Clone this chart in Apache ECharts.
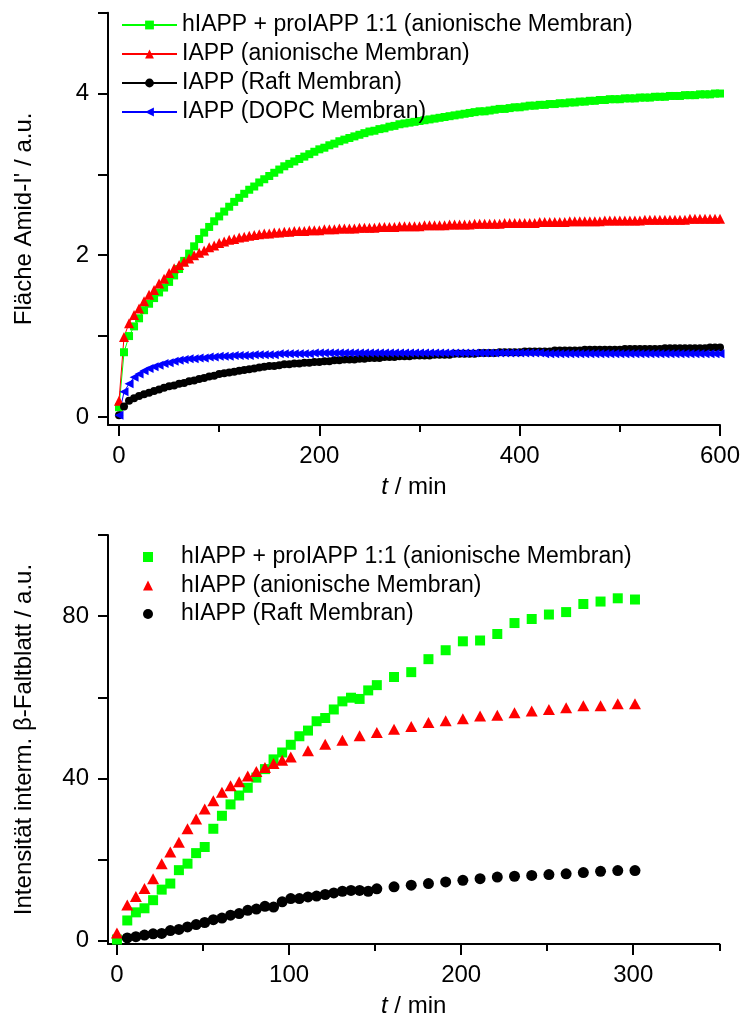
<!DOCTYPE html>
<html><head><meta charset="utf-8">
<script src="https://cdn.jsdelivr.net/npm/echarts@6/dist/echarts.min.js"></script>
<style>html,body{margin:0;padding:0;background:#fff}#c{width:745px;height:1019px}</style>
</head><body><div id="c"></div>
<script>
// ---------- top panel: Fläche Amid-I' vs t ----------
const topTime = [0,5,10,15,20,25,30,35,40,45,
 50,55,60,65,70,75,80,85,90,95,
 100,105,110,115,120,125,130,135,140,145,
 150,155,160,165,170,175,180,185,190,195,
 200,205,210,215,220,225,230,235,240,245,
 250,255,260,265,270,275,280,285,290,295,
 300,305,310,315,320,325,330,335,340,345,
 350,355,360,365,370,375,380,385,390,395,
 400,405,410,415,420,425,430,435,440,445,
 450,455,460,465,470,475,480,485,490,495,
 500,505,510,515,520,525,530,535,540,545,
 550,555,560,565,570,575,580,585,590,595,
 600];
const topGreen = [0.12,0.80,1.00,1.12,1.22,1.32,1.40,1.47,1.54,1.60,
 1.67,1.75,1.83,1.93,2.02,2.11,2.20,2.28,2.35,2.42,
 2.48,2.54,2.60,2.66,2.71,2.76,2.81,2.85,2.90,2.94,
 2.98,3.02,3.06,3.10,3.13,3.16,3.19,3.22,3.25,3.28,
 3.31,3.33,3.36,3.38,3.41,3.43,3.45,3.47,3.49,3.51,
 3.53,3.54,3.56,3.57,3.59,3.60,3.62,3.63,3.64,3.65,
 3.66,3.67,3.68,3.69,3.70,3.71,3.72,3.73,3.74,3.75,
 3.76,3.77,3.78,3.78,3.79,3.80,3.81,3.81,3.82,3.83,
 3.83,3.84,3.85,3.85,3.86,3.86,3.87,3.87,3.88,3.88,
 3.89,3.89,3.90,3.90,3.91,3.91,3.92,3.92,3.93,3.93,
 3.93,3.94,3.94,3.94,3.95,3.95,3.95,3.96,3.96,3.96,
 3.97,3.97,3.97,3.98,3.98,3.98,3.99,3.99,3.99,4.00,
 4.00];
const topRed = [0.20,0.99,1.16,1.26,1.34,1.43,1.51,1.57,1.65,1.71,
 1.78,1.84,1.88,1.92,1.96,2.00,2.03,2.06,2.10,2.12,
 2.15,2.17,2.19,2.20,2.22,2.23,2.24,2.25,2.26,2.27,
 2.27,2.28,2.28,2.29,2.29,2.30,2.30,2.30,2.31,2.31,
 2.31,2.32,2.32,2.32,2.33,2.33,2.33,2.33,2.34,2.34,
 2.34,2.34,2.35,2.35,2.35,2.35,2.36,2.36,2.36,2.36,
 2.36,2.37,2.37,2.37,2.37,2.37,2.38,2.38,2.38,2.38,
 2.38,2.39,2.39,2.39,2.39,2.39,2.39,2.40,2.40,2.40,
 2.40,2.40,2.40,2.40,2.41,2.41,2.41,2.41,2.41,2.41,
 2.42,2.42,2.42,2.42,2.42,2.42,2.42,2.43,2.43,2.43,
 2.43,2.43,2.43,2.43,2.43,2.44,2.44,2.44,2.44,2.44,
 2.44,2.44,2.44,2.44,2.45,2.45,2.45,2.45,2.45,2.45,
 2.45];
const topBlack = [0.02,0.13,0.20,0.23,0.26,0.28,0.30,0.32,0.34,0.36,
 0.38,0.39,0.41,0.42,0.44,0.45,0.47,0.48,0.50,0.51,
 0.53,0.54,0.55,0.56,0.57,0.58,0.59,0.60,0.61,0.62,
 0.63,0.63,0.64,0.65,0.65,0.66,0.66,0.67,0.67,0.68,
 0.68,0.69,0.69,0.70,0.70,0.71,0.71,0.71,0.72,0.72,
 0.73,0.73,0.73,0.74,0.74,0.74,0.75,0.75,0.75,0.76,
 0.76,0.76,0.76,0.77,0.77,0.77,0.77,0.78,0.78,0.78,
 0.78,0.78,0.79,0.79,0.79,0.79,0.80,0.80,0.80,0.80,
 0.80,0.81,0.81,0.81,0.81,0.81,0.81,0.82,0.82,0.82,
 0.82,0.82,0.82,0.83,0.83,0.83,0.83,0.83,0.83,0.83,
 0.83,0.84,0.84,0.84,0.84,0.84,0.84,0.84,0.84,0.85,
 0.85,0.85,0.85,0.85,0.85,0.85,0.85,0.85,0.86,0.86,
 0.86];
const topBlue = [0.02,0.31,0.41,0.49,0.53,0.57,0.60,0.62,0.64,0.66,
 0.67,0.69,0.70,0.71,0.72,0.72,0.73,0.73,0.74,0.74,
 0.75,0.75,0.75,0.76,0.76,0.76,0.76,0.77,0.77,0.77,
 0.77,0.77,0.78,0.78,0.78,0.78,0.78,0.78,0.78,0.79,
 0.79,0.79,0.79,0.79,0.79,0.79,0.79,0.79,0.79,0.79,
 0.79,0.79,0.79,0.79,0.79,0.79,0.79,0.79,0.79,0.79,
 0.79,0.79,0.79,0.79,0.79,0.79,0.79,0.79,0.79,0.79,
 0.79,0.79,0.79,0.79,0.79,0.79,0.79,0.79,0.79,0.79,
 0.79,0.79,0.79,0.79,0.79,0.78,0.78,0.78,0.78,0.78,
 0.78,0.78,0.78,0.78,0.78,0.78,0.78,0.78,0.78,0.78,
 0.78,0.78,0.78,0.78,0.78,0.78,0.78,0.78,0.78,0.78,
 0.78,0.78,0.78,0.78,0.78,0.78,0.78,0.78,0.78,0.78,
 0.78];
const topLegend = ['hIAPP + proIAPP 1:1 (anionische Membran)','IAPP (anionische Membran)','IAPP (Raft Membran)','IAPP (DOPC Membran)'];
const topXTicks = [0,200,400,600];
const topXMinor = [100,300,500];
const topYTicks = [0,1,2,3,4,5];
const topYLabels = [0,2,4];

// ---------- bottom panel: Intensität interm. β-Faltblatt vs t ----------
const botGreenT = [0,6,11,16,21,26,31,36,41,46,51,56,61,66,71,76,81,86,91,96,101,106,111,116,121,126,131,136,141,146,151,
 161,171,181,191,201,211,221,231,241,251,261,271,281,291,301];
const botGreen = [0.3,5.0,7.0,8.0,10.0,12.6,14.1,17.4,19.0,21.6,23.1,27.6,30.8,33.6,35.8,37.7,40.2,42.3,44.7,46.4,48.3,50.4,51.8,54.1,54.9,57.0,59.0,59.9,59.6,61.7,63.0,
 65.0,66.2,69.4,71.6,73.8,74.0,75.6,78.3,79.3,80.4,81.0,83.0,83.6,84.4,84.1];
const botRedT = [0,6,11,16,21,26,31,36,41,46,51,56,61,66,71,76,81,86,91,96,101,
 111,121,131,141,151,161,171,181,191,201,211,221,231,241,251,261,271,281,291,301];
const botRed = [1.9,8.8,10.9,12.9,15.3,19.0,21.9,24.3,27.6,30.0,32.5,34.5,36.6,38.2,39.2,40.6,41.7,42.7,43.7,44.5,45.3,
 46.8,48.4,49.4,50.5,51.3,52.1,52.8,53.8,54.2,54.7,55.4,55.6,56.2,56.6,57.0,57.4,57.9,57.9,58.4,58.4];
const botBlackT = [6,11,16,21,26,31,36,41,46,51,56,61,66,71,76,81,86,91,96,101,106,111,116,121,126,131,136,141,146,151,
 161,171,181,191,201,211,221,231,241,251,261,271,281,291,301];
const botBlack = [0.7,1.0,1.4,1.7,1.8,2.5,2.8,3.4,4.0,4.5,5.2,5.6,6.3,6.7,7.5,7.8,8.5,8.3,9.6,10.4,10.4,10.8,11.0,11.4,11.8,12.2,12.4,12.4,12.2,12.8,
 13.3,13.7,14.1,14.5,14.9,15.3,15.7,15.9,16.1,16.3,16.5,16.8,17.1,17.3,17.3];
const botLegend = ['hIAPP + proIAPP 1:1 (anionische Membran)','hIAPP (anionische Membran)','hIAPP (Raft Membran)'];
const botXTicks = [0,100,200,300];
const botXMinor = [50,150,250,350];
const botYTicks = [0,20,40,60,80,100];
const botYLabels = [0,40,80];

const FONT = "'Liberation Sans', Arial, Helvetica, sans-serif";
const pairs = (xs, ys) => xs.map((x, i) => [x, ys[i]]);
const black = '#000';
const botIds = ['botGreen', 'botRed', 'botBlack'];

function mainX(grid, min, max, ticks) {
  return {
    type: 'value', gridIndex: grid, min: min, max: max, position: 'bottom',
    axisLine: {show: true, onZero: false, lineStyle: {color: black, width: 2}},
    axisTick: {show: true, inside: false, length: 11, customValues: ticks, lineStyle: {color: black, width: 2}},
    axisLabel: {show: true, customValues: ticks, margin: 19, fontSize: 24, fontFamily: FONT, color: black},
    splitLine: {show: false},
    name: '{i|t} / min', nameLocation: 'middle', nameGap: 50,
    nameTextStyle: {fontSize: 24, fontFamily: FONT, color: black,
      rich: {i: {fontStyle: 'italic', fontSize: 24, fontFamily: FONT, color: black}}}
  };
}
function minorX(grid, min, max, ticks) {
  return {
    type: 'value', gridIndex: grid, min: min, max: max, position: 'bottom',
    axisLine: {show: false, onZero: false},
    axisTick: {show: true, inside: false, length: 7, customValues: ticks, lineStyle: {color: black, width: 2}},
    axisLabel: {show: false}, splitLine: {show: false}
  };
}
function mainY(grid, min, max, ticks, labels, name) {
  return {
    type: 'value', gridIndex: grid, min: min, max: max, position: 'left',
    axisLine: {show: true, onZero: false, lineStyle: {color: black, width: 2}},
    axisTick: {show: true, inside: false, length: 10, customValues: ticks, lineStyle: {color: black, width: 2}},
    axisLabel: {show: true, customValues: labels, margin: 19, fontSize: 24, fontFamily: FONT, color: black},
    splitLine: {show: false},
    name: name, nameLocation: 'middle', nameGap: 72, nameRotate: 90,
    nameTextStyle: {fontSize: 24, fontFamily: FONT, color: black}
  };
}

const option = {
  animation: false,
  backgroundColor: '#fff',
  grid: [
    {left: 108, top: 12.7, width: 612, height: 412.3},
    {left: 108, top: 535, width: 611.3, height: 411}
  ],
  xAxis: [
    mainX(0, -11, 600, topXTicks),
    minorX(0, -11, 600, topXMinor),
    mainX(1, -5.2, 350, botXTicks),
    minorX(1, -5.2, 350, botXMinor)
  ],
  yAxis: [
    mainY(0, -0.1, 5, topYTicks, topYLabels, "Fläche Amid-I' / a.u."),
    mainY(1, -0.8, 100, botYTicks, botYLabels, 'Intensität interm. β-Faltblatt / a.u.')
  ],
  legend: [
    {
      data: topLegend, orient: 'vertical', left: 116, top: 8.5,
      itemWidth: 55, itemHeight: 11, itemGap: 6, selectedMode: false,
      textStyle: {fontSize: 23, lineHeight: 23, fontFamily: FONT, color: black}
    },
    {
      data: botIds, orient: 'vertical', left: 138, top: 540.5,
      itemWidth: 10, itemHeight: 10, itemGap: 5.5, selectedMode: false,
      formatter: function (n) { return '{s|}' + botLegend[botIds.indexOf(n)]; },
      textStyle: {fontSize: 23, lineHeight: 23, fontFamily: FONT, color: black,
        rich: {s: {width: 23, fontSize: 23, lineHeight: 23}}}
    }
  ],
  series: [
    {name: topLegend[0], type: 'line', xAxisIndex: 0, yAxisIndex: 0, data: pairs(topTime, topGreen),
     symbol: 'rect', symbolSize: 8, color: '#00ff00', lineStyle: {width: 1, color: '#00ff00'}, itemStyle: {color: '#00ff00'}},
    {name: topLegend[1], type: 'line', xAxisIndex: 0, yAxisIndex: 0, data: pairs(topTime, topRed),
     symbol: 'triangle', symbolSize: 10, color: '#ff0000', lineStyle: {width: 1, color: '#ff0000'}, itemStyle: {color: '#ff0000'}},
    {name: topLegend[2], type: 'line', xAxisIndex: 0, yAxisIndex: 0, data: pairs(topTime, topBlack),
     symbol: 'circle', symbolSize: 8, color: '#000000', lineStyle: {width: 1, color: '#000000'}, itemStyle: {color: '#000000'}},
    {name: topLegend[3], type: 'line', xAxisIndex: 0, yAxisIndex: 0, data: pairs(topTime, topBlue),
     symbol: 'triangle', symbolRotate: 90, symbolSize: 9, color: '#0000ff', lineStyle: {width: 1, color: '#0000ff'}, itemStyle: {color: '#0000ff'}},
    {name: 'botGreen', type: 'scatter', xAxisIndex: 2, yAxisIndex: 1, data: pairs(botGreenT, botGreen),
     symbol: 'rect', symbolSize: 10, itemStyle: {color: '#00ff00', opacity: 1}},
    {name: 'botRed', type: 'scatter', xAxisIndex: 2, yAxisIndex: 1, data: pairs(botRedT, botRed),
     symbol: 'triangle', symbolSize: [12, 11], itemStyle: {color: '#ff0000', opacity: 1}},
    {name: 'botBlack', type: 'scatter', xAxisIndex: 2, yAxisIndex: 1, data: pairs(botBlackT, botBlack),
     symbol: 'circle', symbolSize: 11, itemStyle: {color: '#000000', opacity: 1}}
  ]
};
const chart = echarts.init(document.getElementById('c'), null, {renderer: 'canvas'});
chart.setOption(option);
</script>
</body></html>
